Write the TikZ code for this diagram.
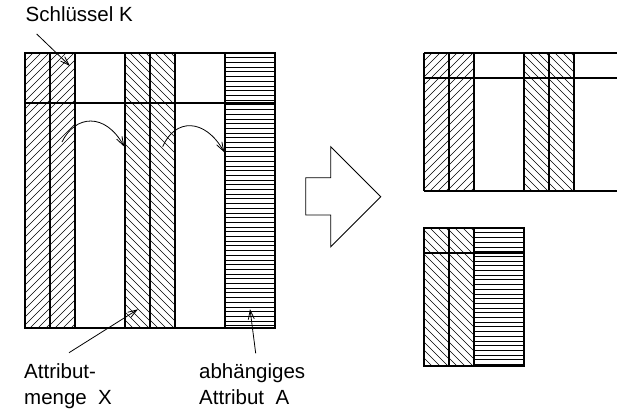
\documentclass[tikz,border=0pt]{standalone}
\usepackage{fontspec}
\setmainfont{Liberation Sans}
\usetikzlibrary{arrows.meta}
\tikzset{
  hatchline/.style={line width=0.6pt},
  border/.style={line width=1.2pt},
  ptr/.style={line width=0.8pt,-{Straight Barb[length=9pt,width=6pt]}},
  lbl/.style={anchor=base west,inner sep=0pt,font=\fontsize{20.5}{25}\selectfont},
  bigarrow/.style={line width=0.9pt}
}
\newcommand\hatchNE[4]{%
  \begin{scope}
    \clip (#1,#2) rectangle (#3,#4);
    \pgfmathsetmacro\hH{#4-#2}
    \pgfmathsetmacro\hW{#3-#1+#4-#2}
    \foreach \c in {0,8,...,\hW} \draw[hatchline] ({#1-\hH+\c},#4) -- ({#1+\c},#2);
  \end{scope}}
\newcommand\hatchNW[4]{%
  \begin{scope}
    \clip (#1,#2) rectangle (#3,#4);
    \pgfmathsetmacro\hH{#4-#2}
    \pgfmathsetmacro\hW{#3-#1+#4-#2}
    \foreach \c in {0,8,...,\hW} \draw[hatchline] ({#1+\c-\hH},#2) -- ({#1+\c},#4);
  \end{scope}}
\newcommand\hlines[4]{%
  \begin{scope}
    \pgfmathsetmacro\hs{#2+4.7}
    \pgfmathsetmacro\hn{#2+9.4}
    \foreach \yy in {\hs,\hn,...,#4} \draw[hatchline] (#1,\yy) -- (#3,\yy);
  \end{scope}}
\begin{document}
\begin{tikzpicture}[x=1pt,y=-1pt]
\useasboundingbox (0,0) rectangle (617,409);
% left table
\hatchNE{25}{53}{50}{328}
\hatchNE{50}{53}{75}{328}
\hatchNW{125}{53}{150}{328}
\hatchNW{150}{53}{175}{328}
\hlines{225}{53}{275}{328}
\draw[border] (25,53) rectangle (275,328);
\draw[border] (25,103) -- (275,103);
\foreach \xx in {50,75,125,150,175,225} \draw[border] (\xx,53) -- (\xx,328);
% right top table
\hatchNE{424}{53}{449}{191}
\hatchNE{449}{53}{474}{191}
\hatchNW{524}{53}{549}{191}
\hatchNW{549}{53}{574}{191}
\foreach \yy in {53,78,191} \draw[border] (424,\yy) -- (617,\yy);
\foreach \xx in {424,449,474,524,549,574} \draw[border] (\xx,53) -- (\xx,191);
% right bottom table
\hatchNW{424}{228}{449}{366}
\hatchNW{449}{228}{474}{366}
\hlines{474}{228}{524}{366}
\draw[border] (424,228) rectangle (524,366);
\draw[border] (424,253) -- (524,253);
\foreach \xx in {449,474} \draw[border] (\xx,228) -- (\xx,366);
% big arrow
\draw[bigarrow] (305.7,177.7) -- (330.7,177.7) -- (330.7,146.7) -- (380.7,196.7)
  -- (330.7,246.7) -- (330.7,215) -- (305.7,215) -- cycle;
% labels
\node[lbl] (K) at (25.5,21.7) {Schlüssel K};
\node[lbl] (X1) at (24,378.5) {Attribut-};
\node[lbl] (X2) at (24,404) {menge\ \ X};
\node[lbl] (A1) at (199,378.5) {abhängiges};
\node[lbl] (A2) at (199,404) {Attribut\ \ A};
% pointers
\coordinate (k0) at (36.7,34);
\coordinate (k1) at (70,66);
\draw[ptr] (k0) -- (k1);
\coordinate (x0) at (69,352.7);
\coordinate (x1) at (138,309.3);
\draw[ptr] (x0) -- (x1);
\coordinate (a0) at (255.7,353.3);
\coordinate (a1) at (250,309);
\draw[ptr] (a0) -- (a1);
\coordinate (c1s) at (62,142);
\coordinate (c1e) at (124.3,146.7);
\draw[ptr] (c1s) .. controls (75,115) and (105,112) .. (c1e);
\coordinate (c2s) at (162.7,146.7);
\coordinate (c2e) at (224.3,152.3);
\draw[ptr] (c2s) .. controls (175,118) and (205,118) .. (c2e);
\end{tikzpicture}
\end{document}
